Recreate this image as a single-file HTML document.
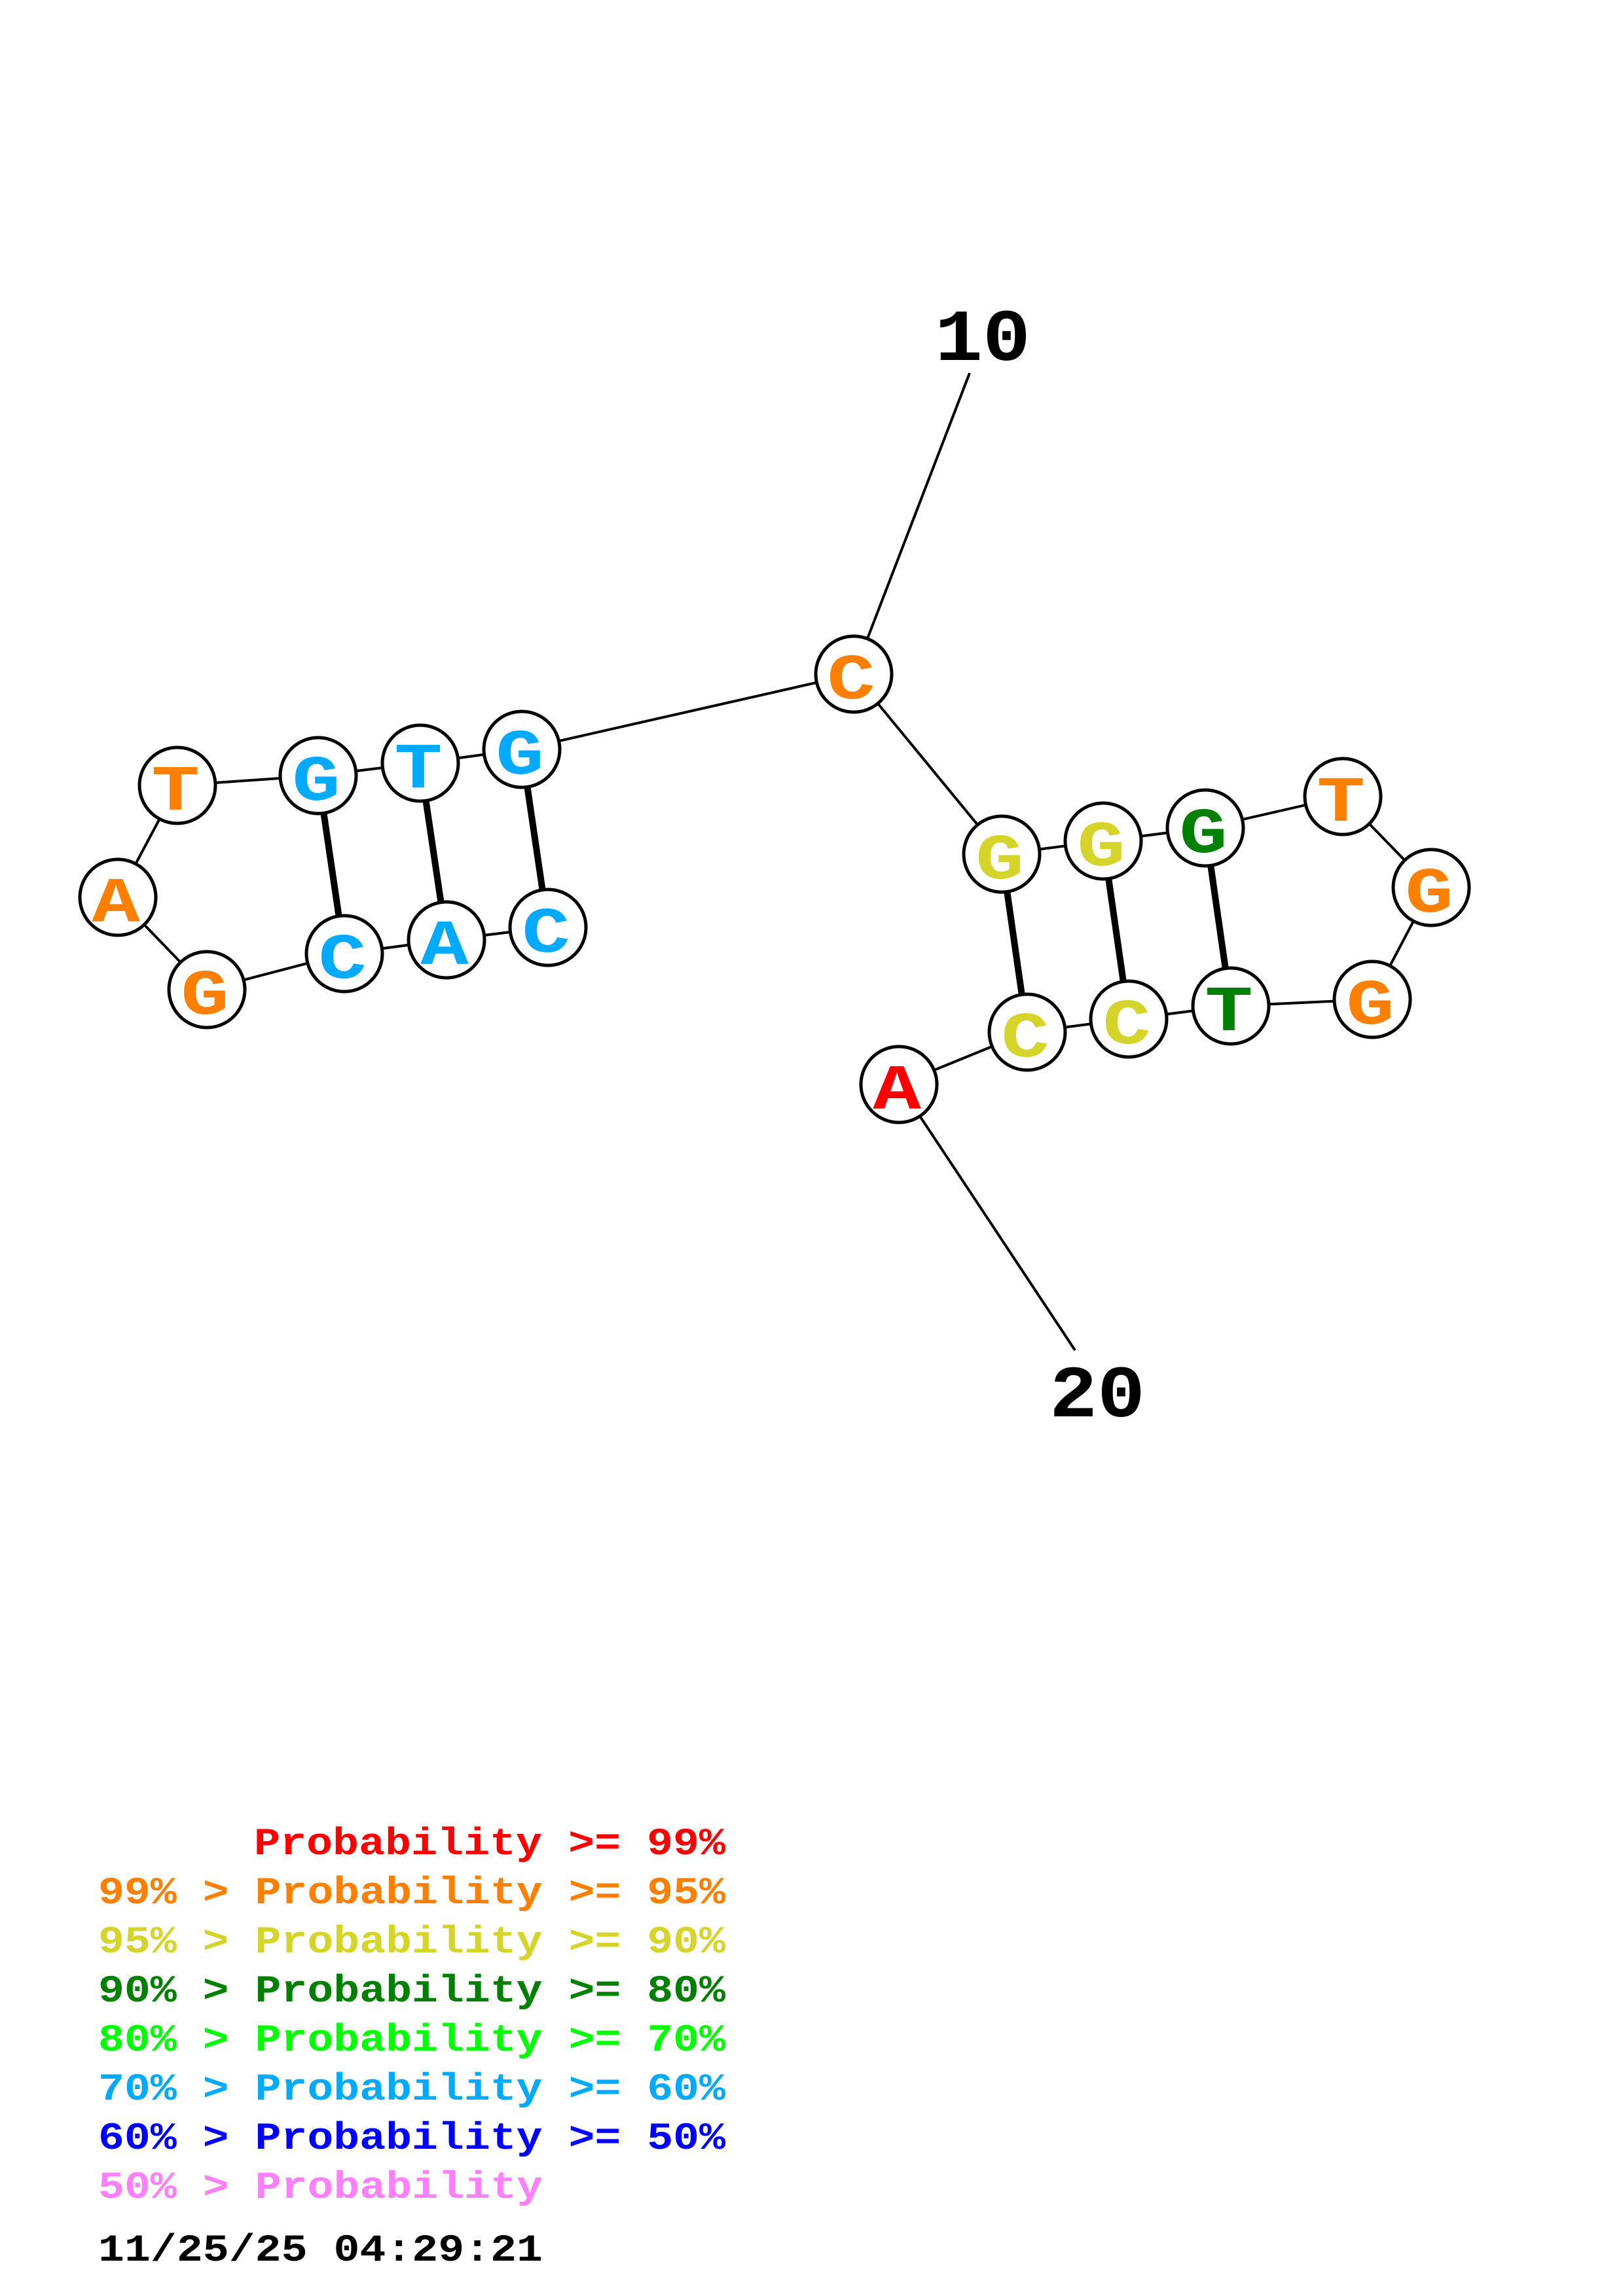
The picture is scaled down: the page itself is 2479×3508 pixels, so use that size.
<!DOCTYPE html>
<html>
<head>
<meta charset="utf-8">
<style>
  html, body { margin: 0; padding: 0; background: #ffffff; }
  svg { display: block; }
  .nt { font-family: "Liberation Mono", "DejaVu Sans Mono", monospace; font-weight: bold; font-size: 98px; }
  .lg { font-family: "Liberation Mono", "DejaVu Sans Mono", monospace; font-weight: bold; font-size: 58px; }
  .num { font-family: "Liberation Mono", "DejaVu Sans Mono", monospace; font-weight: bold; font-size: 112px; fill: #000; }
</style>
</head>
<body>
<svg xmlns="http://www.w3.org/2000/svg" width="2479" height="3508" viewBox="0 0 2479 3508">
  <rect x="0" y="0" width="2479" height="3508" fill="#ffffff"/>

  <!-- backbone (thin) -->
  <g stroke="#000" stroke-width="4" fill="none" stroke-linecap="butt">
    <line x1="837" y1="1417" x2="682" y2="1436"/>
    <line x1="682" y1="1436" x2="526" y2="1457"/>
    <line x1="526" y1="1457" x2="316" y2="1512"/>
    <line x1="316" y1="1512" x2="180" y2="1371"/>
    <line x1="180" y1="1371" x2="271" y2="1200"/>
    <line x1="271" y1="1200" x2="486" y2="1185"/>
    <line x1="486" y1="1185" x2="642" y2="1166"/>
    <line x1="642" y1="1166" x2="797" y2="1145"/>
    <line x1="797" y1="1145" x2="1304" y2="1030"/>
    <line x1="1304" y1="1030" x2="1530" y2="1305"/>
    <line x1="1530" y1="1305" x2="1685" y2="1285"/>
    <line x1="1685" y1="1285" x2="1841" y2="1265"/>
    <line x1="1841" y1="1265" x2="2051" y2="1217"/>
    <line x1="2051" y1="1217" x2="2186" y2="1356"/>
    <line x1="2186" y1="1356" x2="2096" y2="1527"/>
    <line x1="2096" y1="1527" x2="1880" y2="1537"/>
    <line x1="1880" y1="1537" x2="1724" y2="1557"/>
    <line x1="1724" y1="1557" x2="1569" y2="1577"/>
    <line x1="1569" y1="1577" x2="1373" y2="1657"/>
    <!-- numbering ticks -->
    <line x1="1304" y1="1030" x2="1481" y2="570"/>
    <line x1="1373" y1="1657" x2="1642" y2="2063"/>
  </g>

  <!-- base pairs (thick) -->
  <g stroke="#000" stroke-width="10" fill="none">
    <line x1="837" y1="1417" x2="797" y2="1145"/>
    <line x1="682" y1="1436" x2="642" y2="1166"/>
    <line x1="526" y1="1457" x2="486" y2="1185"/>
    <line x1="1530" y1="1305" x2="1569" y2="1577"/>
    <line x1="1685" y1="1285" x2="1724" y2="1557"/>
    <line x1="1841" y1="1265" x2="1880" y2="1537"/>
  </g>

  <!-- nucleotide circles -->
  <g fill="#fff" stroke="#000" stroke-width="5">
    <circle cx="837" cy="1417" r="58"/>
    <circle cx="682" cy="1436" r="58"/>
    <circle cx="526" cy="1457" r="58"/>
    <circle cx="316" cy="1512" r="58"/>
    <circle cx="180" cy="1371" r="58"/>
    <circle cx="271" cy="1200" r="58"/>
    <circle cx="486" cy="1185" r="58"/>
    <circle cx="642" cy="1166" r="58"/>
    <circle cx="797" cy="1145" r="58"/>
    <circle cx="1304" cy="1030" r="58"/>
    <circle cx="1530" cy="1305" r="58"/>
    <circle cx="1685" cy="1285" r="58"/>
    <circle cx="1841" cy="1265" r="58"/>
    <circle cx="2051" cy="1217" r="58"/>
    <circle cx="2186" cy="1356" r="58"/>
    <circle cx="2096" cy="1527" r="58"/>
    <circle cx="1880" cy="1537" r="58"/>
    <circle cx="1724" cy="1557" r="58"/>
    <circle cx="1569" cy="1577" r="58"/>
    <circle cx="1373" cy="1657" r="58"/>
  </g>

  <!-- nucleotide letters -->
  <g class="nt" text-anchor="middle">
    <text transform="translate(834,1454) scale(1.25,1)" fill="#00AAFF">C</text>
    <text transform="translate(679,1473) scale(1.25,1)" fill="#00AAFF">A</text>
    <text transform="translate(523,1494) scale(1.25,1)" fill="#00AAFF">C</text>
    <text transform="translate(313,1549) scale(1.25,1)" fill="#FF8000">G</text>
    <text transform="translate(177,1408) scale(1.25,1)" fill="#FF8000">A</text>
    <text transform="translate(268,1237) scale(1.25,1)" fill="#FF8000">T</text>
    <text transform="translate(483,1222) scale(1.25,1)" fill="#00AAFF">G</text>
    <text transform="translate(639,1203) scale(1.25,1)" fill="#00AAFF">T</text>
    <text transform="translate(794,1182) scale(1.25,1)" fill="#00AAFF">G</text>
    <text transform="translate(1300,1067) scale(1.25,1)" fill="#FF8000">C</text>
    <text transform="translate(1527,1342) scale(1.25,1)" fill="#D4D42A">G</text>
    <text transform="translate(1682,1322) scale(1.25,1)" fill="#D4D42A">G</text>
    <text transform="translate(1838,1302) scale(1.25,1)" fill="#008000">G</text>
    <text transform="translate(2048,1254) scale(1.25,1)" fill="#FF8000">T</text>
    <text transform="translate(2183,1393) scale(1.25,1)" fill="#FF8000">G</text>
    <text transform="translate(2093,1564) scale(1.25,1)" fill="#FF8000">G</text>
    <text transform="translate(1877,1574) scale(1.25,1)" fill="#008000">T</text>
    <text transform="translate(1721,1594) scale(1.25,1)" fill="#D4D42A">C</text>
    <text transform="translate(1566,1614) scale(1.25,1)" fill="#D4D42A">C</text>
    <text transform="translate(1370,1694) scale(1.25,1)" fill="#FF0000">A</text>
  </g>

  <!-- numbering labels -->
  <text class="num" x="1501" y="550" text-anchor="middle" textLength="146" lengthAdjust="spacingAndGlyphs">10</text>
  <text class="num" x="1676" y="2164" text-anchor="middle" textLength="146" lengthAdjust="spacingAndGlyphs">20</text>

  <!-- legend -->
  <g class="lg">
    <text x="388" y="2833" fill="#FF0000" textLength="720" lengthAdjust="spacingAndGlyphs">Probability &gt;= 99%</text>
    <text x="150" y="2908" fill="#FF8000" textLength="958" lengthAdjust="spacingAndGlyphs">99% &gt; Probability &gt;= 95%</text>
    <text x="150" y="2983" fill="#D4D42A" textLength="958" lengthAdjust="spacingAndGlyphs">95% &gt; Probability &gt;= 90%</text>
    <text x="150" y="3058" fill="#008000" textLength="958" lengthAdjust="spacingAndGlyphs">90% &gt; Probability &gt;= 80%</text>
    <text x="150" y="3133" fill="#00FF00" textLength="958" lengthAdjust="spacingAndGlyphs">80% &gt; Probability &gt;= 70%</text>
    <text x="150" y="3208" fill="#00AAFF" textLength="958" lengthAdjust="spacingAndGlyphs">70% &gt; Probability &gt;= 60%</text>
    <text x="150" y="3283" fill="#0000FF" textLength="958" lengthAdjust="spacingAndGlyphs">60% &gt; Probability &gt;= 50%</text>
    <text x="150" y="3358" fill="#FF80FF" textLength="679" lengthAdjust="spacingAndGlyphs">50% &gt; Probability</text>
    <text x="150" y="3454" fill="#000000" textLength="679" lengthAdjust="spacingAndGlyphs">11/25/25 04:29:21</text>
  </g>
</svg>
</body>
</html>
